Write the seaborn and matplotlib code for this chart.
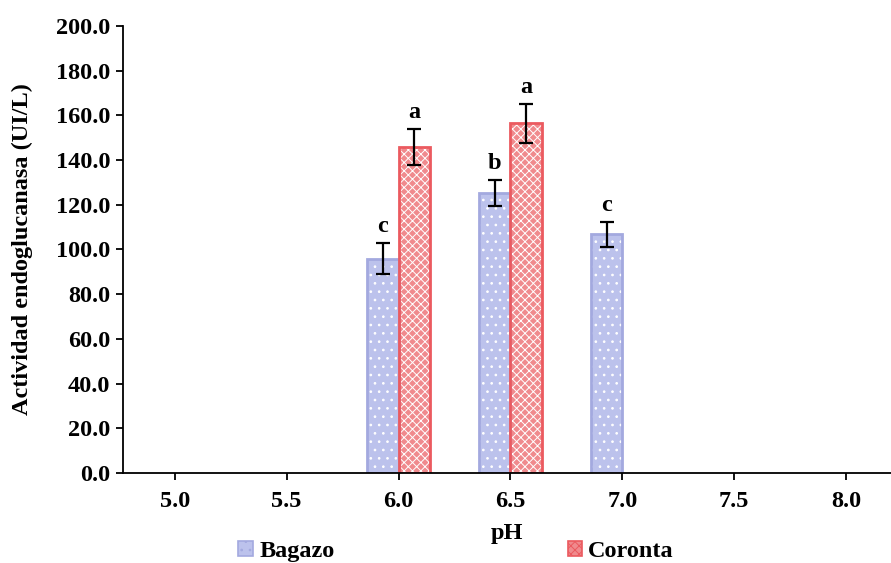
import numpy as np
import pandas as pd
import matplotlib
matplotlib.use("Agg")
import matplotlib.pyplot as plt
from matplotlib.patches import Patch
import seaborn as sns

# Endoglucanase activity by pH for two substrates
ph_bagazo = [6.0, 6.5, 7.0]
act_bagazo = [95.8, 125.3, 106.7]
err_bagazo = [7.0, 5.8, 5.6]
let_bagazo = ["c", "b", "c"]

ph_coronta = [6.0, 6.5]
act_coronta = [145.8, 156.4]
err_coronta = [8.0, 8.7]
let_coronta = ["a", "a"]

x_ticks = [5.0, 5.5, 6.0, 6.5, 7.0, 7.5, 8.0]
y_ticks = list(range(0, 201, 20))

df = pd.DataFrame({
    "pH": ph_bagazo + ph_coronta,
    "act": act_bagazo + act_coronta,
    "sustrato": ["Bagazo"] * len(ph_bagazo) + ["Coronta"] * len(ph_coronta),
})

sns.set_theme(style="white")
plt.rcParams["font.family"] = ["Liberation Serif", "DejaVu Serif"]
plt.rcParams["font.weight"] = "bold"
plt.rcParams["text.color"] = "black"
plt.rcParams["axes.labelcolor"] = "black"
plt.rcParams["xtick.color"] = "black"
plt.rcParams["ytick.color"] = "black"
plt.rcParams["hatch.linewidth"] = 0.7

FS = 17.5
face = {"Bagazo": "#bcc2ec", "Coronta": "#f08a8d"}
edge = {"Bagazo": "#a3a9df", "Coronta": "#eb5a5f"}
hatch = {"Bagazo": "..", "Coronta": "xxxx"}

fig = plt.figure(figsize=(8.91, 5.63), dpi=100)
ax = fig.add_axes([0.1375, 0.160, 0.8625, 0.794])

sns.barplot(data=df, x="pH", y="act", hue="sustrato", native_scale=True,
            width=0.56, dodge=True, errorbar=None, palette=face,
            hue_order=["Bagazo", "Coronta"], legend=False, ax=ax)

series = [
    ("Bagazo", act_bagazo, err_bagazo, let_bagazo),
    ("Coronta", act_coronta, err_coronta, let_coronta),
]
for cont, (name, vals, errs, lets) in zip(ax.containers, series):
    bars = sorted(cont.patches, key=lambda p: p.get_x())
    xs = []
    for p in bars:
        p.set_facecolor(face[name])
        p.set_edgecolor("none")
        # texture overlay, then the outline on top
        ax.bar(p.get_x() + p.get_width() / 2, p.get_height(),
               width=p.get_width(), facecolor="none", edgecolor="white",
               linewidth=0, hatch=hatch[name], zorder=p.get_zorder() + 0.1)
        ax.bar(p.get_x() + p.get_width() / 2, p.get_height(),
               width=p.get_width(), facecolor="none", edgecolor=edge[name],
               linewidth=2.0, zorder=p.get_zorder() + 0.2)
        xs.append(p.get_x() + p.get_width() / 2)
    ax.errorbar(xs, vals, yerr=errs, fmt="none", ecolor="black",
                elinewidth=1.6, capsize=5, capthick=1.6, zorder=5)
    for x, v, e, t in zip(xs, vals, errs, lets):
        ax.text(x, v + e + 7.5, t, ha="center", va="center",
                fontsize=FS, fontweight="bold", color="black")

ax.set_xlim(4.767, 8.2)
ax.set_ylim(0, 200)
ax.set_xticks(x_ticks)
ax.set_xticklabels([f"{v:.1f}" for v in x_ticks])
ax.set_yticks(y_ticks)
ax.set_yticklabels([f"{v:.1f}" for v in y_ticks])

for s in ["top", "right"]:
    ax.spines[s].set_visible(False)
for s in ["left", "bottom"]:
    ax.spines[s].set_color("black")
    ax.spines[s].set_linewidth(1.3)

ax.tick_params(axis="both", direction="out", length=5, width=1.3,
               colors="black", labelsize=FS, left=True, bottom=True)
ax.tick_params(axis="x", pad=8)
ax.tick_params(axis="y", pad=4)
for lab in ax.get_xticklabels() + ax.get_yticklabels():
    lab.set_fontweight("bold")

ax.set_xlabel("pH", fontsize=FS, fontweight="bold", labelpad=8)
ax.set_ylabel("Actividad endoglucanasa (UI/L)", fontsize=FS,
              fontweight="bold", labelpad=16)
ax.grid(False)

handles = [Patch(facecolor=face[n], edgecolor=edge[n], hatch=hatch[n],
                 linewidth=1.2, label=n) for n in ["Bagazo", "Coronta"]]
fig.legend(handles=handles, loc="center", bbox_to_anchor=(0.512, 0.021),
           ncol=2, frameon=False, prop={"size": FS, "weight": "bold"},
           handlelength=0.6, handleheight=0.6, handletextpad=0.25,
           columnspacing=9.6, borderaxespad=0, borderpad=0)

fig.savefig("out.png", dpi=100)
